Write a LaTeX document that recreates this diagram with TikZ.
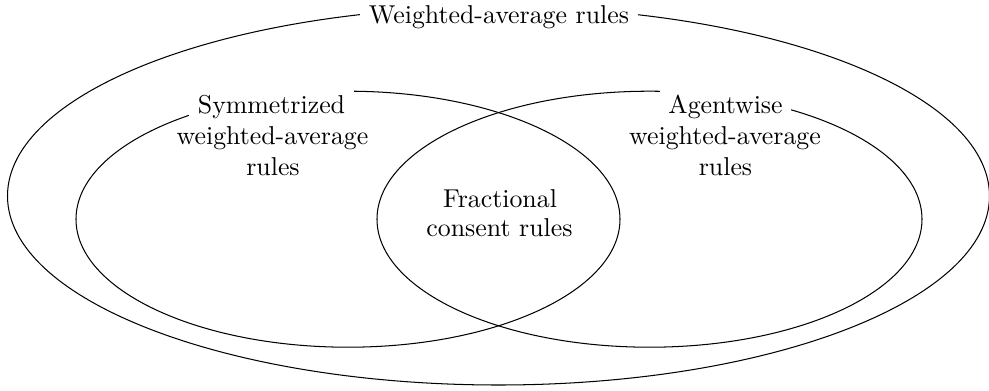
\documentclass[tikz,border=0pt]{standalone}
\begin{document}
\def\u{0.387pt}
\begin{tikzpicture}[x=0.387pt,y=-0.387pt,
  set/.style={draw=black,line width=0.4pt},
  lbl/.style={anchor=base,inner sep=3.333pt,font=\normalsize},
  cut/.style={lbl,fill=white}]
\useasboundingbox (0,0) rectangle (989,391);
% ellipses
\draw[set] (498.5,196) ellipse [x radius=491*\u, y radius=189*\u];
\draw[set] (348,219.2) ellipse [x radius=272*\u, y radius=128*\u];
\draw[set] (649.5,219.2) ellipse [x radius=272.5*\u, y radius=128*\u];
% labels
\node[cut] (wa) at (499,23) {Weighted-average rules};
\node[cut] (sym1) at (271.5,113) {Symmetrized};
\node[lbl] (sym2) at (272.5,144) {weighted-average};
\node[lbl] (sym3) at (273,175) {rules};
\node[cut] (ag1) at (725.5,113) {Agentwise};
\node[lbl] (ag2) at (725,144) {weighted-average};
\node[lbl] (ag3) at (725.5,175) {rules};
\node[lbl] (fr1) at (500,207) {Fractional};
\node[lbl] (fr2) at (499.5,236.5) {consent rules};
\end{tikzpicture}
\end{document}
